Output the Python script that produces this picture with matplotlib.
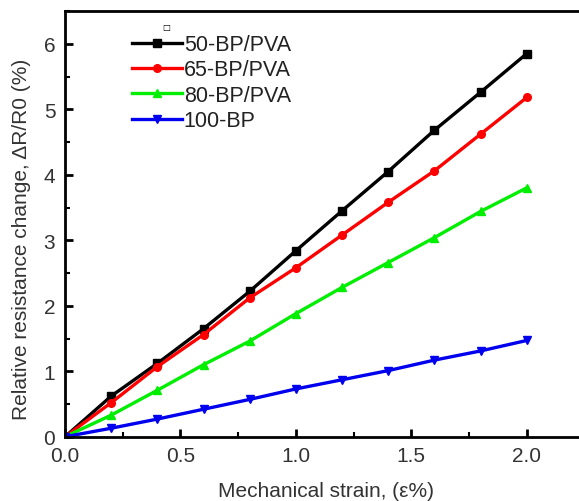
import matplotlib
matplotlib.use("Agg")
import matplotlib.pyplot as plt
from matplotlib.ticker import MultipleLocator

plt.rcParams['font.family'] = ['Liberation Sans', 'DejaVu Sans']

strain = [0.0, 0.2, 0.4, 0.6, 0.8, 1.0, 1.2, 1.4, 1.6, 1.8, 2.0]
bp50 = [0.0, 0.62, 1.12, 1.65, 2.22, 2.84, 3.45, 4.05, 4.68, 5.26, 5.85]
bp65 = [0.0, 0.52, 1.07, 1.56, 2.12, 2.58, 3.08, 3.58, 4.06, 4.62, 5.18]
bp80 = [0.0, 0.33, 0.71, 1.10, 1.46, 1.88, 2.28, 2.66, 3.04, 3.44, 3.80]
bp100 = [0.0, 0.13, 0.27, 0.42, 0.57, 0.73, 0.87, 1.01, 1.17, 1.31, 1.47]

labels = ['50-BP/PVA', '65-BP/PVA', '80-BP/PVA', '100-BP']
colors = ['#000000', '#ff0000', '#00ee00', '#0000ee']
markers = ['s', 'o', '^', 'v']
series = [bp50, bp65, bp80, bp100]

fig = plt.figure(figsize=(5.79, 5.02), dpi=100)
ax = fig.add_axes([0.1123, 0.128, 0.917, 0.848])

for y, lab, c, m in zip(series, labels, colors, markers):
    ax.plot(strain, y, color=c, marker=m, markersize=5.5, linewidth=2.4, label=lab)

ax.set_xlim(0, 2.3)
ax.set_ylim(0, 6.5)
ax.xaxis.set_major_locator(MultipleLocator(0.5))
ax.xaxis.set_minor_locator(MultipleLocator(0.25))
ax.yaxis.set_major_locator(MultipleLocator(1))
ax.yaxis.set_minor_locator(MultipleLocator(0.5))
ax.set_xticks([0.0, 0.5, 1.0, 1.5, 2.0])
ax.set_xticklabels(['0.0', '0.5', '1.0', '1.5', '2.0'])
ax.tick_params(axis='both', which='major', direction='in', length=6, width=2, labelsize=15, labelcolor='#333333', pad=7)
ax.tick_params(axis='both', which='minor', direction='in', length=3.5, width=1.5)
for s in ['left', 'bottom', 'top', 'right']:
    ax.spines[s].set_linewidth(2)

ax.set_xlabel('Mechanical strain, (ε%)', fontsize=15, color='#333333')
ax.set_ylabel('Relative resistance change, ΔR/R0 (%)', fontsize=15, color='#333333')
ax.xaxis.set_label_coords(0.4915, -0.105)
ax.yaxis.set_label_coords(-0.064, 0.467)

leg = ax.legend(loc='upper left', bbox_to_anchor=(0.11, 0.966), frameon=False,
                fontsize=15.5, handlelength=2.3, handletextpad=0.1, labelspacing=0.2,
                borderaxespad=0)
for t in leg.get_texts():
    t.set_color('#222222')

ax.text(0.191, 0.963, '□', transform=ax.transAxes, fontsize=6, ha='center', va='center',
        family=['DejaVu Sans'])

fig.savefig('out.png', dpi=100)
